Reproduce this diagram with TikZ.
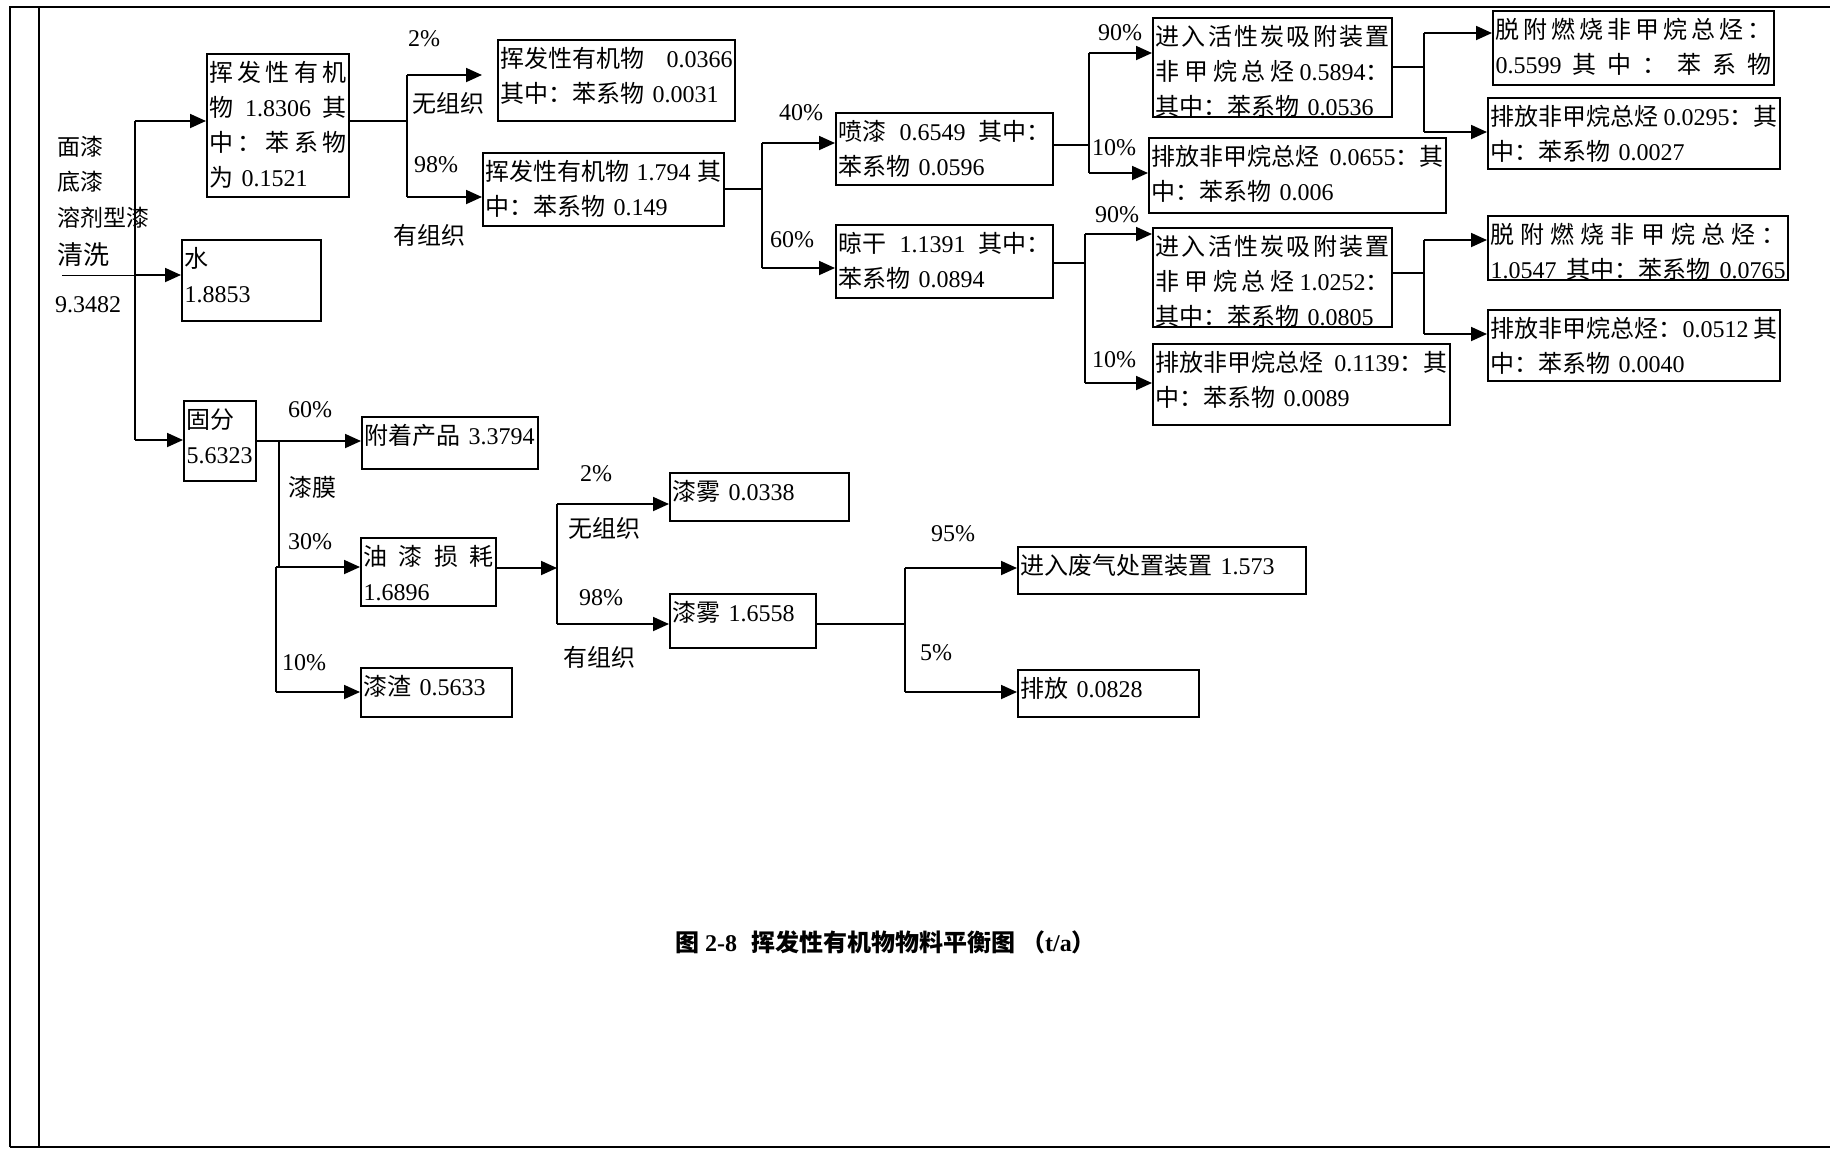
\documentclass[tikz,border=0pt]{standalone}
\usepackage{fontspec}
\setmainfont{Liberation Serif}
\newfontfamily\cjkfont{Noto Sans CJK SC}
\XeTeXinterchartokenstate=1
\chardef\cjkcls=10
\count255="4E00
\loop
 \XeTeXcharclass\count255=\cjkcls
 \ifnum\count255<"9FFF
 \advance\count255 by 1
\repeat
\XeTeXcharclass"FF1A=\cjkcls
\XeTeXcharclass"FF08=\cjkcls
\XeTeXcharclass"FF09=\cjkcls
\XeTeXinterchartoks 0 \cjkcls={\begingroup\cjkfont}
\XeTeXinterchartoks 4095 \cjkcls={\begingroup\cjkfont}
\XeTeXinterchartoks \cjkcls 0={\endgroup}
\XeTeXinterchartoks \cjkcls 4095={\endgroup}
\usetikzlibrary{arrows.meta}
\tikzset{
 bxs/.style={draw, line width=2pt, inner xsep=2.5pt, inner ysep=4pt, anchor=north west, align=left, font=\fontsize{24}{35}\selectfont},
 ln/.style={line width=1.8pt},
 arr/.style={line width=1.8pt, -{Triangle[length=16pt,width=14pt]}},
 lbl/.style={inner sep=0pt, font=\fontsize{24}{28}\selectfont},
 lft/.style={inner sep=0pt, anchor=west},
 frm/.style={line width=2.8pt}
}
\newcommand\mybox[6]{%
 \pgfmathsetlengthmacro\bxw{#4-5}%
 \pgfmathsetlengthmacro\bxd{#5-8-23}%
 \node[bxs, text width=\bxw, text height=23pt, text depth=\bxd] (#1) at (#2,#3) {#6};}
\newcommand\jus[1]{{\spaceskip=2pt plus 1fil\relax\makebox[\linewidth][s]{#1}}}
\begin{document}
\begin{tikzpicture}[x=1pt,y=-1pt]
\useasboundingbox (0,0) rectangle (1830,1149);
% frame
\draw[frm] (10,1147) -- (10,7) -- (1830,7);
\draw[frm] (39,7) -- (39,1147);
\draw[frm] (10,1147) -- (1830,1147);

% left texts
\node[lft, font=\fontsize{23}{23}\selectfont] (t1) at (57,147) {面漆};
\node[lft, font=\fontsize{23}{23}\selectfont] (t2) at (57,182) {底漆};
\node[lft, font=\fontsize{23}{23}\selectfont] (t3) at (57,218) {溶剂型漆};
\node[lft, font=\fontsize{26}{26}\selectfont] (t4) at (57,255) {清洗};
\node[lft, font=\fontsize{24}{24}\selectfont] (t5) at (55,305) {9.3482};

% boxes
\mybox{A}{206}{53}{142}{143}{\jus{挥 发 性 有 机}\\\jus{物 1.8306 其}\\\jus{中 ： 苯 系 物}\\为 0.1521}
\mybox{B}{497}{39}{237}{81}{\jus{挥发性有机物 0.0366}\\其中：苯系物 0.0031}
\mybox{C}{482}{152}{241}{73}{\jus{挥发性有机物 1.794 其}\\中：苯系物 0.149}
\mybox{D}{835}{112}{217}{72}{\jus{喷漆 0.6549 其中：}\\苯系物 0.0596}
\mybox{E}{835}{224}{217}{73}{\jus{晾干 1.1391 其中：}\\苯系物 0.0894}
\mybox{F}{1152}{17}{239}{99}{\jus{进 入 活 性 炭 吸 附 装 置}\\\jus{非 甲 烷 总 烃 0.5894：}\\其中：苯系物 0.0536}
\mybox{G}{1148}{137}{297}{75}{\jus{排放非甲烷总烃 0.0655：其}\\中：苯系物 0.006}
\mybox{H}{1152}{227}{239}{99}{\jus{进 入 活 性 炭 吸 附 装 置}\\\jus{非 甲 烷 总 烃 1.0252：}\\其中：苯系物 0.0805}
\mybox{I}{1152}{343}{297}{81}{\jus{排放非甲烷总烃 0.1139：其}\\中：苯系物 0.0089}
\mybox{J}{1492}{10}{281}{74}{\jus{脱 附 燃 烧 非 甲 烷 总 烃 ：}\\\jus{0.5599 其 中 ： 苯 系 物}}
\mybox{K}{1487}{97}{292}{71}{\jus{排放非甲烷总烃 0.0295：其}\\中：苯系物 0.0027}
\mybox{L}{1487}{215}{300}{64}{\jus{脱 附 燃 烧 非 甲 烷 总 烃 ：}\\\jus{1.0547 其中：苯系物 0.0765}}
\mybox{M}{1487}{309}{292}{71}{\jus{排放非甲烷总烃：0.0512 其}\\中：苯系物 0.0040}
\mybox{W}{181}{239}{139}{81}{水\\1.8853}
\mybox{N}{183}{400}{72}{80}{固分\\5.6323}
\mybox{O}{361}{416}{176}{52}{附着产品 3.3794}
\mybox{P}{360}{537}{135}{68}{\jus{油 漆 损 耗}\\1.6896}
\mybox{Q}{360}{667}{151}{49}{漆渣 0.5633}
\mybox{R}{669}{472}{179}{48}{漆雾 0.0338}
\mybox{S}{669}{593}{146}{54}{漆雾 1.6558}
\mybox{T}{1017}{546}{288}{47}{进入废气处置装置 1.573}
\mybox{U}{1017}{669}{181}{47}{排放 0.0828}

% labels
\node[lbl] (l1) at (424,39) {2\%};
\node[lbl] (l2) at (448,103) {无组织};
\node[lbl] (l3) at (436,165) {98\%};
\node[lbl] (l4) at (429,235) {有组织};
\node[lbl] (l5) at (801,113) {40\%};
\node[lbl] (l6) at (792,240) {60\%};
\node[lbl] (l7) at (1120,33) {90\%};
\node[lbl] (l8) at (1114,148) {10\%};
\node[lbl] (l9) at (1117,215) {90\%};
\node[lbl] (l10) at (1114,360) {10\%};
\node[lbl] (l11) at (310,410) {60\%};
\node[lbl] (l12) at (312,487) {漆膜};
\node[lbl] (l13) at (310,542) {30\%};
\node[lbl] (l14) at (304,663) {10\%};
\node[lbl] (l15) at (596,474) {2\%};
\node[lbl] (l16) at (604,528) {无组织};
\node[lbl] (l17) at (601,598) {98\%};
\node[lbl] (l18) at (599,657) {有组织};
\node[lbl] (l19) at (953,534) {95\%};
\node[lbl] (l20) at (936,653) {5\%};

% title
\node[lft, font=\fontsize{24}{28}\selectfont\bfseries] (title) at (675,942) {图 2-8\hspace{14pt}挥发性有机物物料平衡图\hspace{6pt}（t/a）};

% input and trunk
\coordinate (inL) at (62,275);
\coordinate (tkW) at (135,275);
\coordinate (tkA) at (135,121);
\coordinate (tkN) at (135,440);
\draw[line width=1pt] (inL) -- (tkW);
\draw[arr] (tkW) -- (tkW -| W.west);
\draw[ln] (tkA) -- (tkN);
\draw[arr] (tkA) -- (tkA -| A.west);
\draw[arr] (tkN) -- (tkN -| N.west);

% A -> B / C
\coordinate (jA) at (407,121);
\coordinate (jAt) at (407,75);
\coordinate (jAb) at (407,197);
\draw[ln] (A.east |- jA) -- (jA);
\draw[ln] (jAt) -- (jAb);
\draw[arr, shorten >=15pt] (jAt) -- (jAt -| B.west);
\draw[arr] (jAb) -- (jAb -| C.west);

% C -> D / E
\coordinate (jC) at (762,189);
\coordinate (jCt) at (762,143);
\coordinate (jCb) at (762,268);
\draw[ln] (C.east |- jC) -- (jC);
\draw[ln] (jCt) -- (jCb);
\draw[arr] (jCt) -- (jCt -| D.west);
\draw[arr] (jCb) -- (jCb -| E.west);

% D -> F / G
\coordinate (jD) at (1089,145);
\coordinate (jDt) at (1089,53);
\coordinate (jDb) at (1089,173);
\draw[ln] (D.east |- jD) -- (jD);
\draw[ln] (jDt) -- (jDb);
\draw[arr] (jDt) -- (jDt -| F.west);
\draw[arr] (jDb) -- (jDb -| G.west);

% E -> H / I
\coordinate (jE) at (1085,263);
\coordinate (jEt) at (1085,234);
\coordinate (jEb) at (1085,383);
\draw[ln] (E.east |- jE) -- (jE);
\draw[ln] (jEt) -- (jEb);
\draw[arr] (jEt) -- (jEt -| H.west);
\draw[arr] (jEb) -- (jEb -| I.west);

% F -> J / K
\coordinate (jF) at (1424,67);
\coordinate (jFt) at (1424,33);
\coordinate (jFb) at (1424,132);
\draw[ln] (F.east |- jF) -- (jF);
\draw[ln] (jFt) -- (jFb);
\draw[arr] (jFt) -- (jFt -| J.west);
\draw[arr] (jFb) -- (jFb -| K.west);

% H -> L / M
\coordinate (jH) at (1424,273);
\coordinate (jHt) at (1424,240);
\coordinate (jHb) at (1424,334);
\draw[ln] (H.east |- jH) -- (jH);
\draw[ln] (jHt) -- (jHb);
\draw[arr] (jHt) -- (jHt -| L.west);
\draw[arr] (jHb) -- (jHb -| M.west);

% N -> O / P / Q
\coordinate (jN) at (279,441);
\coordinate (jP1) at (279,567);
\coordinate (jP2) at (276,567);
\coordinate (jQ) at (276,692);
\draw[arr] (N.east |- jN) -- (jN -| O.west);
\draw[ln] (jN) -- (jP1);
\draw[ln] (jP2) -- (jQ);
\draw[arr] (jP2) -- (jP2 -| P.west);
\draw[arr] (jQ) -- (jQ -| Q.west);

% P -> R / S
\coordinate (jP) at (557,568);
\coordinate (jPt) at (557,504);
\coordinate (jPb) at (557,624);
\draw[arr] (P.east |- jP) -- (jP);
\draw[ln] (jPt) -- (jPb);
\draw[arr] (jPt) -- (jPt -| R.west);
\draw[arr] (jPb) -- (jPb -| S.west);

% S -> T / U
\coordinate (jS) at (905,624);
\coordinate (jSt) at (905,568);
\coordinate (jSb) at (905,692);
\draw[ln] (S.east |- jS) -- (jS);
\draw[ln] (jSt) -- (jSb);
\draw[arr] (jSt) -- (jSt -| T.west);
\draw[arr] (jSb) -- (jSb -| U.west);
\end{tikzpicture}
\end{document}
